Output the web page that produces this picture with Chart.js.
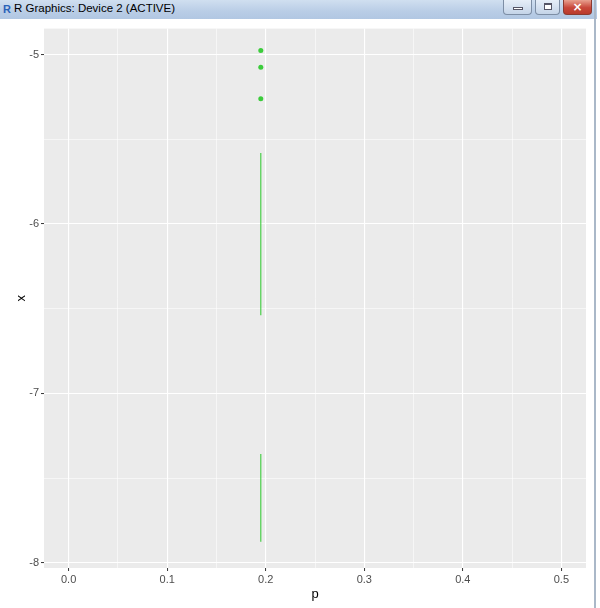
<!DOCTYPE html>
<html><head><meta charset="utf-8">
<script src="https://cdn.jsdelivr.net/npm/chart.js@4/dist/chart.umd.min.js"></script>
<style>
html,body{margin:0;padding:0;width:600px;height:608px;overflow:hidden;background:#fff;font-family:'Liberation Sans',Arial,sans-serif}
#titlebar{position:absolute;left:0;top:0;width:597px;height:19px;background:linear-gradient(#d0dff0,#b9cde6 60%,#b1c7e2)}
#ticon{position:absolute;left:3px;top:3px;font:bold 11px 'Liberation Sans',Arial,sans-serif;color:#2a62b8}
#ttext{position:absolute;left:14px;top:2px;font:11.5px 'Liberation Sans',Arial,sans-serif;color:#000;white-space:nowrap}
.btn{position:absolute;top:0;height:15px;border:1px solid #7d8ea5;border-top:none;border-radius:0 0 4px 4px;background:linear-gradient(#e6eef8,#c4d4e8);box-sizing:border-box}
#bmin{left:503px;width:29px}
#bmax{left:535px;width:25px}
#bclose{left:563px;width:29px;background:linear-gradient(#e8a08f,#c8473a 55%,#b93a2c);border-color:#8a3a30;color:#fff;font:bold 12px 'DejaVu Sans',sans-serif;text-align:center;line-height:14px}
#bmin:after{content:'';position:absolute;left:9px;top:7px;width:10px;height:3px;background:#fff;border:1px solid #556;box-sizing:border-box}
#bmax:after{content:'';position:absolute;left:8px;top:3px;width:8px;height:7px;border:1px solid #556;border-top-width:2px;background:#fff;box-sizing:border-box}
#edge{position:absolute;left:594px;top:0;width:2px;height:608px;background:#aab8c8}
#wrap{position:absolute;left:0;top:20px;width:592px;height:588px}
</style></head>
<body>
<div id="titlebar"><span id="ticon">R</span><span id="ttext">R Graphics: Device 2 (ACTIVE)</span>
<div class="btn" id="bmin"></div><div class="btn" id="bmax"></div><div class="btn" id="bclose">×</div></div>
<div id="edge"></div>
<div id="wrap"><canvas id="c"></canvas></div>
<script>
// ---- data ----
const pointP = [0.195, 0.195, 0.195];
const pointX = [-4.976, -5.075, -5.261];
const seg1P = [0.195, 0.195];
const seg1X = [-5.582, -6.539];
const seg2P = [0.195, 0.195];
const seg2X = [-7.358, -7.876];
const xMajorTicks = [0, 0.1, 0.2, 0.3, 0.4, 0.5];
const xTickLabels = ['0.0', '0.1', '0.2', '0.3', '0.4', '0.5'];
const xMinorTicks = [0.05, 0.15, 0.25, 0.35, 0.45];
const yMajorTicks = [-8, -7, -6, -5];
const yTickLabels = ['-8', '-7', '-6', '-5'];
const yMinorTicks = [-7.5, -6.5, -5.5];

const green = '#3bcc3b';
const toXY = (ps, xs) => ps.map((p, i) => ({x: p, y: xs[i]}));
const idxOf = (arr, v) => arr.findIndex(a => Math.abs(a - v) < 1e-9);

const panelBg = {
  id: 'panelBg',
  beforeDraw(chart) {
    const {ctx, chartArea: a} = chart;
    ctx.save();
    ctx.fillStyle = '#EBEBEB';
    ctx.fillRect(a.left, a.top, a.right - a.left, a.bottom - a.top);
    ctx.restore();
  }
};

function axis(major, labels, minor, min, max, title, titlePad, fitProp, fitVal) {
  return {
    type: 'linear', min, max,
    afterBuildTicks: s => { s.ticks = [...major, ...minor].sort((a, b) => a - b).map(v => ({value: v})); },
    afterFit: s => { s[fitProp] = fitVal; },
    border: {display: false},
    grid: {
      color: '#FFFFFF',
      lineWidth: c => (c.tick && idxOf(major, c.tick.value) >= 0) ? 1.1 : 0.55,
      tickColor: c => (c.tick && idxOf(major, c.tick.value) >= 0) ? '#333333' : 'rgba(0,0,0,0)',
      tickLength: 3,
      tickWidth: 1,
      drawTicks: true
    },
    ticks: {
      autoSkip: false, maxRotation: 0, padding: 2,
      color: '#4D4D4D',
      font: {family: "'Liberation Sans', Arial, sans-serif", size: 11},
      callback: v => { const i = idxOf(major, v); return i >= 0 ? labels[i] : ''; }
    },
    title: {display: true, text: title, color: '#000000',
      font: {family: "'Liberation Sans', Arial, sans-serif", size: 13},
      padding: titlePad}
  };
}

new Chart(document.getElementById('c'), {
  type: 'scatter',
  data: {
    datasets: [
      {data: toXY(pointP, pointX), backgroundColor: green, borderColor: green, pointRadius: 2.5, pointBorderWidth: 0},
      {data: toXY(seg1P, seg1X), showLine: true, borderColor: green, borderWidth: 1.1, pointRadius: 0},
      {data: toXY(seg2P, seg2X), showLine: true, borderColor: green, borderWidth: 1.1, pointRadius: 0}
    ]
  },
  options: {
    responsive: true, maintainAspectRatio: false, animation: false,
    layout: {padding: {top: 8, right: 6, left: 0, bottom: 0}},
    plugins: {legend: {display: false}, tooltip: {enabled: false}},
    scales: {
      x: axis(xMajorTicks, xTickLabels, xMinorTicks, -0.025, 0.525, 'p', {top: 0, bottom: 6}, 'height', 40),
      y: axis(yMajorTicks, yTickLabels, yMinorTicks, -8.031, -4.847, 'x', {top: 14, bottom: 0}, 'width', 44)
    }
  },
  plugins: [panelBg]
});
</script>
</body></html>
